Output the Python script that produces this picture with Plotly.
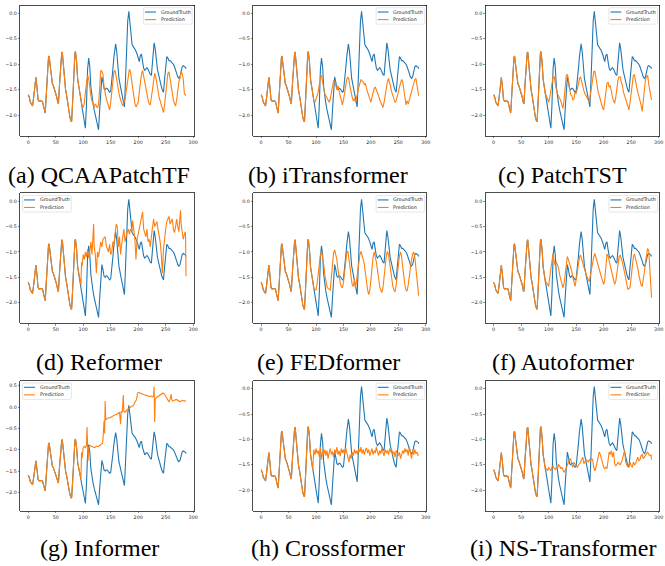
import plotly.graph_objects as go

W, H = 665, 566
INPUT_LEN = 96

# ---------------- data ----------------
ground_truth = [
    (0, -1.60), (2, -1.65), (4, -1.75), (6, -1.80), (8, -1.82), (10, -1.65), (12, -1.45), (14, -1.26),
    (16, -1.45), (18, -1.70), (20, -1.73), (23, -1.72), (26, -1.73), (28, -1.80), (30, -1.92), (31, -1.96),
    (33, -1.60), (35, -1.10), (37, -0.86), (38, -0.84), (40, -1.05), (42, -1.28), (44, -1.38), (46, -1.43),
    (48, -1.50), (50, -1.58), (52, -1.65), (54, -1.76), (55, -1.78), (57, -1.40), (59, -1.00), (61, -0.78),
    (62, -0.76), (64, -1.00), (66, -1.35), (68, -1.50), (70, -1.62), (72, -1.78), (74, -1.90), (76, -2.05),
    (78, -2.12), (79, -2.13), (81, -1.70), (83, -1.10), (85, -0.78), (86, -0.75), (88, -0.95), (90, -1.30),
    (92, -1.45), (94, -1.60), (96, -1.75), (98, -1.90), (100, -2.05), (102, -2.20), (104, -2.26), (106, -1.80),
    (108, -1.10), (110, -0.88), (112, -1.05), (114, -1.45), (116, -1.65), (118, -1.78), (120, -1.90),
    (122, -2.00), (124, -2.10), (126, -2.22), (128, -2.29), (130, -1.90), (132, -1.45), (134, -1.25),
    (136, -1.35), (138, -1.48), (140, -1.50), (142, -1.47), (144, -1.48), (146, -1.52), (148, -1.55),
    (150, -1.53), (152, -1.35), (154, -1.10), (156, -0.85), (158, -0.65), (159, -0.60), (161, -0.75),
    (163, -1.10), (165, -1.28), (168, -1.45), (170, -1.55), (172, -1.68), (174, -1.80), (175, -1.84),
    (177, -1.30), (179, -0.60), (181, -0.15), (183, 0.04), (185, -0.20), (187, -0.50), (189, -0.62),
    (192, -0.67), (195, -0.72), (198, -0.80), (200, -0.88), (202, -0.95), (204, -0.83), (206, -0.80),
    (208, -0.95), (210, -1.08), (212, -1.12), (214, -1.08), (216, -1.07), (218, -1.10), (220, -1.17),
    (222, -1.20), (224, -1.22), (226, -0.95), (228, -0.62), (229, -0.58), (231, -0.70), (233, -0.95),
    (235, -1.10), (237, -1.20), (239, -1.30), (241, -1.42), (243, -1.48), (245, -1.53), (246, -1.55),
    (248, -1.30), (250, -1.00), (252, -0.85), (254, -0.88), (256, -0.93), (258, -0.93), (260, -0.95),
    (262, -0.97), (264, -1.00), (266, -1.05), (268, -1.10), (270, -1.18), (272, -1.25), (274, -1.28),
    (276, -1.25), (278, -1.12), (280, -1.05), (282, -1.03), (284, -1.04), (286, -1.06), (287, -1.09),
]

qcaa_pred = [
    (96, -1.76), (98, -1.82), (100, -1.85), (102, -1.78), (104, -1.55), (106, -1.35), (108, -1.22),
    (110, -1.28), (112, -1.50), (114, -1.62), (116, -1.72), (118, -1.80), (120, -1.85), (122, -1.78),
    (124, -1.82), (126, -1.86), (128, -1.80), (130, -1.50), (132, -1.12), (134, -1.14), (136, -1.20),
    (138, -1.45), (140, -1.58), (142, -1.68), (144, -1.75), (146, -1.85), (148, -1.90), (150, -1.75),
    (152, -1.55), (154, -1.35), (156, -1.15), (158, -1.12), (160, -1.25), (162, -1.40), (164, -1.55),
    (166, -1.62), (168, -1.70), (170, -1.78), (172, -1.82), (174, -1.75), (176, -1.70), (178, -1.55),
    (180, -1.40), (182, -1.18), (184, -1.10), (186, -1.15), (188, -1.30), (190, -1.55), (192, -1.68),
    (194, -1.78), (196, -1.84), (198, -1.80), (200, -1.75), (202, -1.55), (204, -1.35), (206, -1.20),
    (208, -1.12), (210, -1.25), (212, -1.40), (214, -1.48), (216, -1.60), (218, -1.70), (220, -1.78),
    (222, -1.80), (224, -1.65), (226, -1.45), (228, -1.25), (230, -1.18), (232, -1.25), (234, -1.40),
    (236, -1.52), (238, -1.65), (240, -1.72), (242, -1.80), (244, -1.90), (246, -1.95), (248, -1.80),
    (250, -1.60), (252, -1.40), (254, -1.18), (256, -1.15), (258, -1.30), (260, -1.50), (262, -1.62),
    (264, -1.70), (266, -1.78), (268, -1.82), (270, -1.70), (272, -1.50), (274, -1.35), (276, -1.28),
    (278, -1.15), (280, -1.18), (282, -1.30), (284, -1.58), (286, -1.62), (287, -1.62),
]

itransformer_pred = [
    (96, -1.72), (98, -1.75), (100, -1.70), (102, -1.62), (104, -1.55), (106, -1.40), (108, -1.25),
    (110, -1.22), (112, -1.38), (114, -1.48), (116, -1.58), (118, -1.62), (120, -1.68), (122, -1.72),
    (124, -1.75), (126, -1.68), (128, -1.55), (130, -1.40), (132, -1.32), (134, -1.33), (136, -1.45),
    (138, -1.50), (140, -1.42), (142, -1.55), (144, -1.62), (146, -1.70), (148, -1.80), (150, -1.70),
    (152, -1.55), (154, -1.42), (156, -1.30), (158, -1.25), (160, -1.30), (162, -1.45), (164, -1.58),
    (166, -1.65), (168, -1.72), (170, -1.68), (172, -1.75), (174, -1.62), (176, -1.55), (178, -1.45),
    (180, -1.35), (182, -1.30), (184, -1.33), (186, -1.35), (188, -1.40), (190, -1.38), (192, -1.48),
    (194, -1.55), (196, -1.65), (198, -1.72), (200, -1.75), (202, -1.65), (204, -1.55), (206, -1.48),
    (208, -1.45), (210, -1.50), (212, -1.55), (214, -1.62), (216, -1.70), (218, -1.75), (220, -1.82),
    (222, -1.85), (224, -1.75), (226, -1.60), (228, -1.45), (230, -1.35), (232, -1.28), (234, -1.35),
    (236, -1.45), (238, -1.55), (240, -1.62), (242, -1.70), (244, -1.75), (246, -1.72), (248, -1.65),
    (250, -1.55), (252, -1.45), (254, -1.38), (256, -1.30), (258, -1.35), (260, -1.55), (262, -1.65),
    (264, -1.80), (266, -1.72), (268, -1.78), (270, -1.70), (272, -1.62), (274, -1.55), (276, -1.45),
    (278, -1.38), (280, -1.30), (282, -1.28), (284, -1.40), (286, -1.58), (287, -1.62),
]

patchtst_pred = [
    (96, -1.62), (98, -1.70), (100, -1.75), (102, -1.65), (104, -1.50), (106, -1.35), (108, -1.25),
    (110, -1.25), (112, -1.40), (114, -1.50), (116, -1.58), (118, -1.62), (120, -1.66), (122, -1.72),
    (124, -1.80), (126, -1.87), (128, -1.70), (130, -1.40), (132, -1.22), (134, -1.20), (136, -1.30),
    (138, -1.48), (140, -1.60), (142, -1.62), (144, -1.70), (146, -1.68), (148, -1.55), (150, -1.58),
    (152, -1.50), (154, -1.40), (156, -1.28), (158, -1.25), (160, -1.35), (162, -1.45), (164, -1.52),
    (166, -1.58), (168, -1.62), (170, -1.68), (172, -1.72), (174, -1.75), (176, -1.60), (178, -1.45),
    (180, -1.25), (182, -1.15), (184, -1.13), (186, -1.30), (188, -1.45), (190, -1.55), (192, -1.62),
    (194, -1.70), (196, -1.80), (198, -1.86), (200, -1.90), (202, -1.70), (204, -1.50), (206, -1.38),
    (208, -1.35), (210, -1.45), (212, -1.42), (214, -1.55), (216, -1.65), (218, -1.72), (220, -1.77),
    (222, -1.65), (224, -1.45), (226, -1.32), (228, -1.25), (230, -1.25), (232, -1.35), (234, -1.42),
    (236, -1.55), (238, -1.62), (240, -1.70), (242, -1.78), (244, -1.88), (246, -1.90), (248, -1.75),
    (250, -1.55), (252, -1.35), (254, -1.22), (256, -1.21), (258, -1.30), (260, -1.45), (262, -1.55),
    (264, -1.62), (266, -1.70), (268, -1.80), (270, -1.93), (272, -1.75), (274, -1.50), (276, -1.30),
    (278, -1.25), (280, -1.22), (282, -1.40), (284, -1.55), (286, -1.62), (287, -1.70),
]

reformer_pred = [
    (96, -1.65), (97, -1.20), (98, -1.28), (100, -1.05), (102, -1.15), (104, -1.00), (106, -1.10),
    (108, -0.95), (110, -1.12), (112, -1.00), (114, -0.80), (116, -1.05), (118, -0.75), (119, -0.45),
    (120, -0.90), (122, -1.05), (124, -1.42), (125, -1.10), (126, -1.00), (128, -1.10), (130, -0.95),
    (132, -0.80), (134, -0.90), (136, -0.75), (138, -0.72), (140, -0.70), (142, -0.88), (144, -0.95),
    (146, -1.00), (148, -0.85), (150, -1.05), (152, -1.00), (154, -0.80), (156, -0.85), (158, -0.60),
    (160, -0.45), (162, -0.50), (164, -0.90), (166, -0.70), (168, -1.05), (170, -0.85), (172, -0.70),
    (174, -0.55), (176, -0.80), (178, -0.65), (180, -0.60), (182, -0.55), (184, -0.65), (186, -0.55),
    (188, -0.60), (190, -0.38), (192, -0.60), (194, -0.75), (196, -1.15), (198, -0.75), (200, -0.65),
    (202, -0.55), (204, -0.45), (206, -0.30), (208, -0.21), (210, -0.55), (212, -0.65), (214, -0.70),
    (216, -0.55), (218, -0.80), (220, -0.75), (222, -0.90), (224, -0.70), (226, -0.55), (228, -0.35),
    (230, -0.50), (232, -0.45), (234, -0.40), (236, -0.55), (238, -0.65), (240, -0.80), (242, -1.05),
    (244, -1.42), (246, -0.95), (248, -0.70), (250, -0.55), (252, -0.40), (254, -0.35), (256, -0.30),
    (258, -0.45), (260, -0.40), (262, -0.35), (264, -0.55), (266, -0.62), (268, -0.50), (270, -0.35),
    (272, -0.50), (274, -0.60), (276, -0.30), (277, -0.18), (278, -0.45), (280, -0.60), (282, -0.75),
    (284, -0.65), (286, -0.60), (287, -1.48),
]

fedformer_pred = [
    (96, -1.71), (98, -1.74), (100, -1.75), (102, -1.62), (104, -1.40), (106, -1.20), (108, -1.05),
    (110, -0.99), (112, -1.10), (114, -1.25), (116, -1.45), (118, -1.60), (120, -1.68), (122, -1.72),
    (124, -1.74), (126, -1.75), (128, -1.50), (130, -1.20), (132, -1.02), (134, -0.96), (136, -1.05),
    (138, -1.15), (140, -1.35), (142, -1.50), (144, -1.60), (146, -1.68), (148, -1.71), (150, -1.60),
    (152, -1.40), (154, -1.20), (156, -1.02), (158, -0.98), (160, -1.10), (162, -1.30), (164, -1.50),
    (166, -1.65), (168, -1.68), (170, -1.55), (172, -1.72), (174, -1.55), (176, -1.35), (178, -1.18),
    (180, -1.05), (182, -0.99), (184, -1.05), (186, -1.15), (188, -1.25), (190, -1.45), (192, -1.62),
    (194, -1.75), (196, -1.84), (198, -1.75), (200, -1.55), (202, -1.30), (204, -1.10), (206, -1.00),
    (208, -1.08), (210, -1.20), (212, -1.35), (214, -1.55), (216, -1.68), (218, -1.75), (220, -1.80),
    (222, -1.70), (224, -1.45), (226, -1.25), (228, -1.08), (230, -0.99), (232, -1.05), (234, -1.20),
    (236, -1.38), (238, -1.55), (240, -1.68), (242, -1.75), (244, -1.79), (246, -1.65), (248, -1.45),
    (250, -1.25), (252, -1.08), (254, -1.00), (256, -1.10), (258, -1.30), (260, -1.50), (262, -1.65),
    (264, -1.75), (266, -1.77), (268, -1.65), (270, -1.45), (272, -1.30), (274, -1.15), (276, -1.05),
    (278, -1.00), (280, -1.10), (282, -1.30), (284, -1.55), (286, -1.75), (287, -1.86),
]

autoformer_pred = [
    (96, -1.60), (98, -1.66), (100, -1.68), (102, -1.50), (104, -1.30), (106, -1.12), (108, -1.02),
    (110, -1.18), (111, -1.25), (112, -1.22), (114, -1.20), (116, -1.25), (118, -1.32), (120, -1.45),
    (122, -1.55), (124, -1.65), (126, -1.71), (128, -1.62), (130, -1.40), (132, -1.18), (134, -1.09),
    (136, -1.15), (138, -1.22), (140, -1.28), (142, -1.38), (144, -1.50), (146, -1.60), (148, -1.68),
    (150, -1.55), (152, -1.38), (154, -1.20), (156, -1.10), (158, -1.06), (160, -1.12), (162, -1.22),
    (164, -1.30), (166, -1.38), (168, -1.45), (170, -1.50), (172, -1.55), (174, -1.58), (176, -1.45),
    (178, -1.30), (180, -1.20), (182, -1.10), (184, -1.03), (186, -1.12), (188, -1.20), (190, -1.28),
    (192, -1.35), (194, -1.42), (196, -1.50), (198, -1.58), (200, -1.64), (202, -1.55), (204, -1.30),
    (206, -1.04), (208, -1.08), (210, -1.18), (212, -1.25), (214, -1.35), (216, -1.45), (218, -1.55),
    (220, -1.64), (222, -1.58), (224, -1.45), (226, -1.25), (228, -1.10), (230, -1.06), (232, -1.12),
    (234, -1.20), (236, -1.30), (238, -1.42), (240, -1.55), (242, -1.65), (244, -1.74), (246, -1.72),
    (248, -1.70), (250, -1.50), (252, -1.25), (254, -1.10), (256, -1.04), (258, -1.12), (260, -1.22),
    (262, -1.32), (264, -1.45), (266, -1.58), (268, -1.65), (270, -1.68), (272, -1.55), (274, -1.40),
    (276, -1.20), (278, -1.00), (280, -0.93), (282, -0.98), (284, -1.30), (286, -1.80), (287, -1.90),
]

informer_pred = [
    (96, -1.68), (97, -1.06), (98, -1.20), (100, -0.95), (102, -0.92), (104, -0.95), (106, -0.90),
    (107, -0.47), (108, -1.00), (109, -1.26), (110, -0.95), (112, -0.90), (115, -0.92), (118, -0.93),
    (121, -0.95), (124, -0.92), (127, -0.93), (130, -0.90), (133, -0.88), (135, -0.85), (136, -0.75),
    (137, -0.55), (138, -0.32), (139, -0.62), (140, 0.14), (141, -0.30), (143, -0.28), (146, -0.25),
    (149, -0.25), (152, -0.22), (155, -0.20), (158, -0.18), (161, -0.17), (164, -0.15), (166, -0.12),
    (168, -0.40), (169, -0.10), (171, -0.12), (173, 0.28), (174, -0.10), (176, -0.12), (179, -0.08),
    (182, -0.05), (185, 0.00), (188, 0.02), (191, 0.03), (194, 0.10), (197, 0.18), (199, 0.33),
    (202, 0.34), (205, 0.32), (208, 0.30), (211, 0.29), (214, 0.28), (217, 0.27), (220, 0.25),
    (223, 0.26), (226, 0.24), (228, 0.25), (229, 0.48), (230, -0.35), (231, 0.18), (233, 0.22),
    (236, 0.25), (239, 0.28), (242, 0.32), (245, 0.33), (248, 0.30), (251, 0.22), (254, 0.15),
    (256, 0.12), (258, 0.18), (260, 0.30), (261, 0.18), (263, 0.14), (266, 0.16), (269, 0.18),
    (272, 0.16), (275, 0.13), (278, 0.14), (281, 0.16), (284, 0.14), (287, 0.15),
]

crossformer_pred = [
    (96, -1.20), (98, -1.30), (100, -1.18), (102, -1.28), (104, -1.22), (106, -1.35), (108, -1.15),
    (110, -1.40), (112, -1.25), (114, -1.30), (116, -1.20), (118, -1.32), (120, -1.22), (122, -1.38),
    (124, -1.26), (126, -1.18), (128, -1.30), (130, -1.24), (132, -1.35), (134, -1.20), (136, -1.28),
    (138, -1.15), (140, -1.30), (142, -1.22), (144, -1.33), (146, -1.18), (148, -1.27), (150, -1.20),
    (152, -1.30), (154, -1.17), (156, -1.25), (158, -1.35), (160, -1.45), (162, -1.30), (164, -1.38),
    (166, -1.25), (168, -1.32), (170, -1.20), (172, -1.28), (174, -1.22), (176, -1.30), (178, -1.18),
    (180, -1.25), (182, -1.15), (184, -1.28), (186, -1.20), (188, -1.30), (190, -1.22), (192, -1.17),
    (194, -1.27), (196, -1.20), (198, -1.32), (200, -1.24), (202, -1.18), (204, -1.30), (206, -1.22),
    (208, -1.27), (210, -1.15), (212, -1.25), (214, -1.32), (216, -1.22), (218, -1.28), (220, -1.18),
    (222, -1.26), (224, -1.33), (226, -1.20), (228, -1.27), (230, -1.22), (232, -1.30), (234, -1.18),
    (236, -1.25), (238, -1.20), (240, -1.30), (242, -1.24), (244, -1.35), (246, -1.22), (248, -1.28),
    (250, -1.32), (252, -1.25), (254, -1.38), (256, -1.30), (258, -1.22), (260, -1.28), (262, -1.18),
    (264, -1.25), (266, -1.20), (268, -1.32), (270, -1.15), (272, -1.25), (274, -1.38), (276, -1.22),
    (278, -1.30), (280, -1.20), (282, -1.28), (284, -1.25), (286, -1.32), (287, -1.30),
]

nstransformer_pred = [
    (96, -1.58), (98, -1.62), (100, -1.55), (102, -1.58), (104, -1.62), (106, -1.55), (108, -1.52),
    (110, -1.57), (112, -1.60), (114, -1.55), (116, -1.58), (118, -1.50), (120, -1.52), (122, -1.58),
    (124, -1.55), (126, -1.60), (128, -1.65), (130, -1.62), (132, -1.55), (134, -1.48), (136, -1.45),
    (138, -1.40), (140, -1.38), (142, -1.50), (144, -1.55), (146, -1.45), (148, -1.50), (150, -1.52),
    (152, -1.55), (154, -1.50), (156, -1.48), (158, -1.45), (160, -1.40), (162, -1.35), (164, -1.48),
    (166, -1.45), (168, -1.40), (170, -1.42), (172, -1.45), (174, -1.40), (176, -1.42), (178, -1.38),
    (180, -1.40), (182, -1.55), (184, -1.62), (186, -1.55), (188, -1.45), (190, -1.35), (192, -1.25),
    (194, -1.30), (196, -1.38), (198, -1.48), (200, -1.55), (202, -1.58), (204, -1.55), (206, -1.58),
    (208, -1.45), (210, -1.25), (212, -1.30), (214, -1.22), (216, -1.35), (218, -1.25), (220, -1.48),
    (222, -1.52), (224, -1.50), (226, -1.45), (228, -1.48), (230, -1.50), (232, -1.45), (234, -1.40),
    (236, -1.30), (238, -1.22), (240, -1.45), (242, -1.50), (244, -1.55), (246, -1.50), (248, -1.45),
    (250, -1.52), (252, -1.55), (254, -1.45), (256, -1.50), (258, -1.48), (260, -1.40), (262, -1.35),
    (264, -1.42), (266, -1.40), (268, -1.32), (270, -1.30), (272, -1.38), (274, -1.35), (276, -1.32),
    (278, -1.28), (280, -1.25), (282, -1.30), (284, -1.32), (286, -1.30), (287, -1.40),
]

captions = ["(a) QCAAPatchTF", "(b) iTransformer", "(c) PatchTST",
            "(d) Reformer", "(e) FEDformer", "(f) Autoformer",
            "(g) Informer", "(h) Crossformer", "(i) NS-Transformer"]
predictions = [qcaa_pred, itransformer_pred, patchtst_pred,
               reformer_pred, fedformer_pred, autoformer_pred,
               informer_pred, crossformer_pred, nstransformer_pred]
legend_sides = ["right", "right", "right", "left", "right", "right", "left", "right", "right"]
series_names = ["GroundTruth", "Prediction"]
x_ticks = [0, 50, 100, 150, 200, 250, 300]
y_ticks = [-2.0, -1.5, -1.0, -0.5, 0.0, 0.5]

# ---------------- layout geometry (pixels) ----------------
col_px = [(20.4, 195.1), (254.8, 429.1), (488.7, 663.4)]
row_px = [(5.4, 135.7), (193.3, 323.3), (380.7, 510.7)]
caption_cx = [100, 330, 566]
caption_cy = [175, 362, 548]

BLUE = "#1f77b4"
ORANGE = "#ff7f0e"
LW = 1.1
TICK_FONT = dict(family="DejaVu Sans", size=4.8, color="#222222")

gt_x = [p[0] for p in ground_truth]
gt_y = [p[1] for p in ground_truth]
inp = [p for p in ground_truth if p[0] < INPUT_LEN]

fig = go.Figure()
shapes, annotations = [], []
layout = {}

for i, pred in enumerate(predictions):
    r, c = divmod(i, 3)
    n = i + 1
    sfx = "" if n == 1 else str(n)
    full_pred = inp + pred
    px_ = [p[0] for p in full_pred]
    py_ = [p[1] for p in full_pred]

    fig.add_trace(go.Scatter(x=gt_x, y=gt_y, mode="lines", name=series_names[0],
                             line=dict(color=BLUE, width=LW), showlegend=False,
                             xaxis="x" + sfx, yaxis="y" + sfx))
    fig.add_trace(go.Scatter(x=px_, y=py_, mode="lines", name=series_names[1],
                             line=dict(color=ORANGE, width=LW), showlegend=False,
                             xaxis="x" + sfx, yaxis="y" + sfx))

    allx = gt_x + px_
    ally = gt_y + py_
    xlo, xhi = min(allx), max(allx)
    ylo, yhi = min(ally), max(ally)
    xp = 0.05 * (xhi - xlo)
    yp = 0.05 * (yhi - ylo)
    yr = [ylo - yp, yhi + yp]
    yt = [v for v in y_ticks if yr[0] <= v <= yr[1]]

    l, rr = col_px[c]
    t, b = row_px[r]
    layout["xaxis" + sfx] = dict(
        domain=[l / W, rr / W], anchor="y" + sfx, range=[xlo - xp, xhi + xp],
        tickvals=x_ticks, ticktext=[str(v) for v in x_ticks], ticks="outside",
        ticklen=1.7, tickwidth=0.5, tickcolor="#222", tickfont=TICK_FONT,
        showline=True, linecolor="black", linewidth=0.7, mirror=True,
        showgrid=False, zeroline=False, fixedrange=True,
    )
    layout["yaxis" + sfx] = dict(
        domain=[1 - b / H, 1 - t / H], anchor="x" + sfx, range=yr,
        tickvals=yt, ticktext=[f"{v:.1f}".replace("-", "\u2212") for v in yt],
        ticks="outside", ticklen=1.7, tickwidth=0.5, tickcolor="#222", tickfont=TICK_FONT,
        showline=True, linecolor="black", linewidth=0.7, mirror=True,
        showgrid=False, zeroline=False, fixedrange=True,
    )

    # legend (matplotlib-style box)
    xref = ("x" + sfx) + " domain"
    yref = ("y" + sfx) + " domain"
    if legend_sides[i] == "right":
        bx0, bx1 = 0.709, 0.990
    else:
        bx0, bx1 = 0.013, 0.294
    by0, by1 = 0.856, 0.982
    rx, ry = 1.5 / (rr - l), 1.5 / (b - t)
    path = (f"M{bx0+rx},{by0} L{bx1-rx},{by0} Q{bx1},{by0} {bx1},{by0+ry} "
            f"L{bx1},{by1-ry} Q{bx1},{by1} {bx1-rx},{by1} L{bx0+rx},{by1} "
            f"Q{bx0},{by1} {bx0},{by1-ry} L{bx0},{by0+ry} Q{bx0},{by0} {bx0+rx},{by0} Z")
    shapes.append(dict(type="path", path=path, xref=xref, yref=yref,
                       fillcolor="rgba(255,255,255,0.8)", line=dict(color="#cccccc", width=0.5),
                       layer="above"))
    for k, (yy, col) in enumerate([(0.949, BLUE), (0.891, ORANGE)]):
        shapes.append(dict(type="line", xref=xref, yref=yref, x0=bx0 + 0.009, x1=bx0 + 0.072,
                           y0=yy, y1=yy, line=dict(color=col, width=LW), layer="above"))
        annotations.append(dict(text=series_names[k], xref=xref, yref=yref, x=bx0 + 0.087, y=yy,
                                xanchor="left", yanchor="middle", showarrow=False,
                                font=dict(family="DejaVu Sans", size=4.8, color="#222222")))

    annotations.append(dict(text=captions[i], xref="paper", yref="paper",
                            x=caption_cx[c] / W, y=1 - caption_cy[r] / H,
                            xanchor="center", yanchor="middle", showarrow=False,
                            font=dict(family="Liberation Serif", size=24, color="black")))

fig.update_layout(
    width=W, height=H, margin=dict(l=0, r=0, t=0, b=0),
    paper_bgcolor="white", plot_bgcolor="white", showlegend=False, hovermode=False,
    shapes=shapes, annotations=annotations, **layout,
)

fig.write_html("out.html", config={"displayModeBar": False, "staticPlot": True},
               post_script="document.body.style.margin='0px';")
